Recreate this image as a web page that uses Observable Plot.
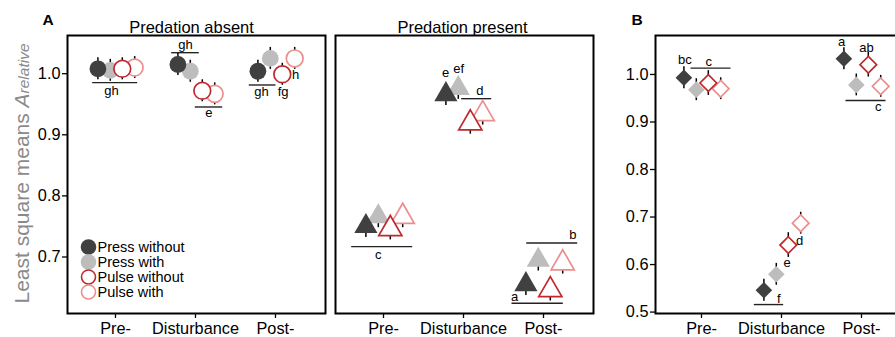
<!DOCTYPE html>
<html><head><meta charset="utf-8">
<script src="https://cdn.jsdelivr.net/npm/d3@7"></script>
<script src="https://cdn.jsdelivr.net/npm/@observablehq/plot@0.6"></script>
<style>
html,body{margin:0;padding:0;background:#fff;overflow:hidden;}
#wrap{position:relative;width:895px;height:337px;overflow:hidden;font-family:"Liberation Sans",Arial,sans-serif;}
#wrap > svg{position:absolute;top:0;}
</style></head><body><div id="wrap"></div>
<script>
// ---------- data ----------
const groups = ["Pre-", "Disturbance", "Post-"];
const seriesNames = ["Press without", "Press with", "Pulse without", "Pulse with"];
const seriesOffsets = [-0.22, -0.065, 0.085, 0.24];

// Panel A, predation absent
const absentPressWithout = [1.008, 1.015, 1.004];
const absentPressWith    = [1.0055, 1.004, 1.025];
const absentPulseWithout = [1.008, 0.972, 0.999];
const absentPulseWith    = [1.010, 0.967, 1.025];
const absentSE = [0.018, 0.018, 0.018, 0.018];

// Panel A, predation present
const presentPressWithout = [0.750, 0.966, 0.655];
const presentPressWith    = [0.766, 0.976, 0.695];
const presentPulseWithout = [0.746, 0.919, 0.646];
const presentPulseWith    = [0.766, 0.934, 0.690];
const presentSE = [0.018, 0.018, 0.018, 0.018];

// Panel B
const bPressWithout = [0.993, 0.546, 1.033];
const bPressWith    = [0.968, 0.5795, 0.978];
const bPulseWithout = [0.982, 0.641, 1.0205];
const bPulseWith    = [0.970, 0.687, 0.975];
const bSE = [0.023, 0.023, 0.026, 0.023];

// significance letters (x in group units, y in data units)
const absentLetters = [
  {x: -0.05, y: 0.9717, t: "gh"}, {x: 0.875, y: 1.0465, t: "gh"}, {x: 1.166, y: 0.9357, t: "e"},
  {x: 1.825, y: 0.9705, t: "gh"}, {x: 2.096, y: 0.9705, t: "fg"}, {x: 2.25, y: 0.998, t: "h"}
];
const absentLines = [
  {x1: -0.291, x2: 0.271, y: 0.9853}, {x1: 0.696, x2: 1.041, y: 1.0344},
  {x1: 0.991, x2: 1.334, y: 0.9455}, {x1: 1.666, x2: 2.0, y: 0.9815}
];
const presentLetters = [
  {x: -0.066, y: 0.7033, t: "c"}, {x: 1.204, y: 0.9717, t: "d"}, {x: 2.366, y: 0.7355, t: "b"},
  {x: 1.6375, y: 0.6345, t: "a"}, {x: 0.775, y: 1.0016, t: "e"}, {x: 0.941, y: 1.0082, t: "ef"}
];
const presentLines = [
  {x1: -0.404, x2: 0.359, y: 0.7169}, {x1: 0.971, x2: 1.346, y: 0.9591},
  {x1: 1.784, x2: 2.421, y: 0.7229}, {x1: 1.6, x2: 2.241, y: 0.6242}
];
const bLetters = [
  {x: -0.209, y: 1.031, t: "bc"}, {x: 0.091, y: 1.0274, t: "c"}, {x: 1.75, y: 1.0695, t: "a"},
  {x: 2.0625, y: 1.0554, t: "ab"}, {x: 2.209, y: 0.9312, t: "c"}, {x: 1.225, y: 0.649, t: "d"},
  {x: 1.071, y: 0.6036, t: "e"}, {x: 0.966, y: 0.5278, t: "f"}
];
const bLines = [
  {x1: -0.1375, x2: 0.3625, y: 1.0133}, {x1: 1.8, x2: 2.3, y: 0.9453}, {x1: 0.654, x2: 1.021, y: 0.5158}
];

const yTicksA = [0.7, 0.8, 0.9, 1.0];
const yTicksB = [0.5, 0.6, 0.7, 0.8, 0.9, 1.0];

// ---------- styles ----------
const fills   = ["#404040", "#bdbdbd", "#ffffff", "#ffffff"];
const strokes = ["none", "none", "#c0282d", "#ec8e8e"];
const drawOrder = [3, 1, 0, 2];
const FONT = "'Liberation Sans', Arial, sans-serif";

function table(arrs, se) {
  const rows = [];
  arrs.forEach((vals, s) => vals.forEach((v, g) => rows.push({s, g, x: g + seriesOffsets[s], y: v, se: se[s]})));
  return rows;
}

function panel({rows, symbol, r, letters, lines, yDomain, xDomain, yTicks, width, mL, mR, title, titleDx}) {
  const marks = [
    Plot.frame({stroke: "#000", strokeWidth: 2}),
    Plot.axisX({ticks: [0, 1, 2], tickFormat: i => groups[i], tickSize: 5, tickPadding: 4, label: null, fontSize: 16.3, strokeWidth: 1.3}),
    Plot.link(lines, {x1: "x1", x2: "x2", y1: "y", y2: "y", stroke: "#222", strokeWidth: 1.4}),
    Plot.ruleX(rows, {x: "x", y1: d => d.y - d.se, y2: d => d.y + d.se, stroke: "#000", strokeWidth: 1.5})
  ];
  for (const s of drawOrder) {
    marks.push(Plot.dot(rows.filter(d => d.s === s), {x: "x", y: "y", symbol, r,
      fill: fills[s], stroke: strokes[s], strokeWidth: 1.7}));
  }
  marks.push(Plot.text(letters, {x: "x", y: "y", text: "t", fontSize: 13, fill: "#000"}));
  if (yTicks) marks.push(Plot.axisY({ticks: yTicks, tickFormat: ".1f", tickSize: 5, tickPadding: 2, label: null, fontSize: 16.3, strokeWidth: 1.3}));
  if (title) marks.push(Plot.text([title], {frameAnchor: "top", dy: -14.5, dx: titleDx, fontSize: 16.5, fill: "#000"}));
  return Plot.plot({
    width, height: 337, marginLeft: mL, marginRight: mR, marginTop: 35, marginBottom: 24,
    x: {domain: xDomain, axis: null},
    y: {domain: yDomain, axis: null},
    style: {fontFamily: FONT, fontSize: "16px", color: "#000", background: "transparent", overflow: "visible"},
    marks
  });
}

const wrap = document.getElementById("wrap");

const pA1 = panel({
  rows: table([absentPressWithout, absentPressWith, absentPulseWithout, absentPulseWith], absentSE),
  symbol: "circle", r: 8.4, letters: absentLetters, lines: absentLines,
  yDomain: [0.6075, 1.0625], xDomain: [-0.6, 2.625], yTicks: yTicksA,
  width: 330, mL: 67, mR: 5, title: "Predation absent", titleDx: -5
});
pA1.style.left = "0px";
wrap.appendChild(pA1);

const pA2 = panel({
  rows: table([presentPressWithout, presentPressWith, presentPulseWithout, presentPulseWith], presentSE),
  symbol: "triangle", r: 8.6, letters: presentLetters, lines: presentLines,
  yDomain: [0.6075, 1.0625], xDomain: [-0.6, 2.625], yTicks: null,
  width: 270, mL: 5, mR: 7, title: "Predation present", titleDx: -2
});
pA2.style.left = "330px";
wrap.appendChild(pA2);

const pB = panel({
  rows: table([bPressWithout, bPressWith, bPulseWithout, bPulseWith], bSE),
  symbol: "diamond2", r: 7.5, letters: bLetters, lines: bLines,
  yDomain: [0.497, 1.082], xDomain: [-0.575, 2.6], yTicks: yTicksB,
  width: 314, mL: 55, mR: 5, title: null
});
pB.style.left = "600px";
wrap.appendChild(pB);

// overlay: panel letters, y label, legend
const ov = d3.select(wrap).append("svg")
  .attr("width", 895).attr("height", 337).style("left", "0px")
  .style("font-family", FONT);

ov.append("text").attr("x", 42.5).attr("y", 25).attr("font-weight", "bold").attr("font-size", 15.5).text("A");
ov.append("text").attr("x", 631.5).attr("y", 25).attr("font-weight", "bold").attr("font-size", 15.5).text("B");

const yl = ov.append("text").attr("transform", "translate(28.5,173.5) rotate(-90)")
  .attr("text-anchor", "middle").attr("fill", "#8a8a8a").attr("font-size", 21);
yl.append("tspan").text("Least square means ");
yl.append("tspan").attr("font-style", "italic").text("A");
yl.append("tspan").attr("font-style", "italic").attr("font-size", 15.5).text("relative");

const lg = ov.append("g");
seriesNames.forEach((name, i) => {
  const cy = 247 + i * 15;
  lg.append("circle").attr("cx", 88.5).attr("cy", cy).attr("r", i < 2 ? 7.8 : 7)
    .attr("fill", fills[i]).attr("stroke", strokes[i]).attr("stroke-width", 1.6);
  lg.append("text").attr("x", 97.5).attr("y", cy).attr("dy", "0.36em").attr("font-size", 14.5).text(name);
});
</script>
</body></html>
